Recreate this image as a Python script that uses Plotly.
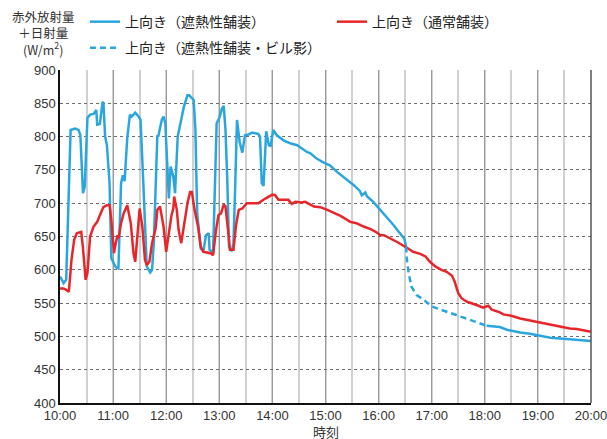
import plotly.graph_objects as go

# ---- data (minutes after 10:00, W/m2) ----
blue_min = [0, 4, 7, 12, 17, 21, 23, 26, 28, 31, 34, 38, 41, 42, 45, 48, 49, 51, 53,
            56, 58, 63, 66, 69, 71, 73, 76, 79, 81, 85, 89, 91, 94, 98, 102, 104, 106,
            110, 111, 115, 117, 119, 123, 125, 128, 130, 133, 138, 140, 144, 146, 151,
            153, 155, 159, 162, 165, 168, 169, 173, 177, 180, 183, 185, 187, 189, 191,
            194, 196, 198, 200, 203, 206, 209, 213, 217, 223, 224, 226, 228, 230, 233,
            236, 238, 241, 245, 253, 260, 268, 271, 279, 283, 290, 298, 305, 313, 320,
            328, 332, 339, 341, 345, 347, 354, 362, 369, 377, 384, 389, 391]
blue_val = [590, 580, 585, 810, 812, 810, 802, 715, 725, 828, 833, 834, 840, 818, 819,
            851, 852, 800, 787, 730, 617, 604, 602, 730, 742, 733, 798, 833, 830, 836,
            830, 825, 735, 605, 596, 600, 640, 802, 800, 825, 830, 820, 707, 755, 740,
            715, 800, 832, 845, 862, 862, 855, 810, 685, 632, 628, 652, 655, 630, 626,
            820, 828, 842, 846, 810, 735, 634, 628, 640, 727, 825, 792, 776, 802, 803,
            806, 805, 804, 800, 730, 726, 808, 787, 786, 810, 802, 794, 790, 787, 784,
            777, 775, 767, 761, 757, 747, 740, 732, 727, 718, 712, 716, 710, 702, 690,
            680, 667, 655, 647, 635]

blue_late_min = [482, 493, 497, 505, 512, 520, 531, 542, 554, 565, 576, 587, 600]
blue_late_val = [516, 515, 514, 510, 508, 506, 504, 501, 498, 497, 496, 495, 493]

shade_min = [391, 392, 394, 397, 403, 411, 420, 430, 441, 452, 463, 475, 482]
shade_val = [635, 615, 595, 575, 562, 555, 545, 540, 535, 530, 525, 520, 516]

red_min = [0, 4, 7, 10, 13, 16, 19, 24, 26, 29, 31, 34, 38, 42, 46, 49, 53, 56, 58,
           61, 63, 65, 66, 69, 72, 76, 80, 83, 85, 88, 90, 93, 96, 98, 101, 104, 108,
           110, 113, 117, 120, 123, 126, 128, 129, 132, 134, 137, 140, 144, 147, 149,
           152, 156, 159, 162, 166, 170, 173, 176, 179, 182, 185, 187, 190, 192, 196,
           199, 202, 206, 211, 219, 224, 232, 240, 243, 247, 253, 258, 262, 266, 273,
           277, 287, 294, 302, 309, 317, 328, 335, 343, 351, 358, 362, 366, 369, 375,
           382, 392, 399, 407, 413, 418, 424, 431, 437, 443, 446, 450, 454, 460, 467,
           473, 478, 484, 488, 497, 501, 510, 520, 531, 539, 546, 554, 565, 576, 584,
           591, 600]
red_val = [572, 572, 570, 567, 615, 645, 655, 657, 632, 585, 595, 650, 665, 672, 685,
           694, 697, 697, 675, 625, 640, 652, 647, 670, 685, 697, 670, 625, 612, 655,
           692, 665, 615, 607, 612, 640, 662, 690, 695, 665, 627, 655, 682, 692, 710,
           690, 660, 640, 665, 700, 717, 717, 690, 665, 635, 627, 626, 625, 622, 657,
           682, 685, 698, 695, 658, 630, 630, 668, 690, 692, 700, 700, 700, 707, 713,
           712, 705, 705, 705, 699, 702, 701, 702, 695, 694, 690, 686, 681, 672, 670,
           665, 661, 656, 652, 652, 650, 645, 641, 633, 627, 624, 620, 612, 605, 600,
           597, 591, 582, 565, 557, 552, 549, 546, 543, 546, 540, 536, 533, 531, 527,
           524, 521, 520, 517, 514, 512, 511, 509, 507]

tick_hours = list(range(10, 21))
tick_text = [f"{h}:00" for h in tick_hours]

names = ["上向き（遮熱性舗装）", "上向き（通常舗装）", "上向き（遮熱性舗装・ビル影）"]
BLUE = "#2aa6df"
RED = "#e8262a"


def hours(mins):
    return [10 + m / 60 for m in mins]


blue_x = hours(blue_min) + [None] + hours(blue_late_min)
blue_y = blue_val + [None] + blue_late_val

fig = go.Figure()
fig.add_trace(go.Scatter(x=blue_x, y=blue_y, mode="lines", name=names[0],
                         line=dict(color=BLUE, width=2.5), connectgaps=False,
                         legend="legend"))
fig.add_trace(go.Scatter(x=hours(red_min), y=red_val, mode="lines", name=names[1],
                         line=dict(color=RED, width=2.5), legend="legend"))
fig.add_trace(go.Scatter(x=hours(shade_min), y=shade_val, mode="lines", name=names[2],
                         line=dict(color=BLUE, width=2.5, dash="6px,4px"),
                         legend="legend2"))

font_jp = "Noto Sans CJK JP"
font_num = "Liberation Sans"
leg_font = dict(family=font_jp, size=14, color="#222")

fig.update_layout(
    width=607, height=439,
    margin=dict(l=60, r=16, t=70, b=36, autoexpand=False),
    paper_bgcolor="white", plot_bgcolor="white",
    showlegend=True,
    legend=dict(orientation="h", x=0.047, xanchor="left", y=1.192, yanchor="top",
                entrywidth=202, entrywidthmode="pixels", font=leg_font,
                bgcolor="rgba(0,0,0,0)"),
    legend2=dict(orientation="h", x=0.047, xanchor="left", y=1.114, yanchor="top",
                 font=leg_font, bgcolor="rgba(0,0,0,0)"),
    xaxis=dict(range=[10, 20], tickvals=tick_hours, ticktext=tick_text,
               showgrid=True, gridcolor="#9a9a9a", gridwidth=1,
               minor=dict(dtick=0.5, showgrid=True, gridcolor="#d0d0d0", gridwidth=1.5),
               showline=True, linecolor="#111", linewidth=1.5, zeroline=False,
               ticklabeloverflow="allow",
               tickfont=dict(family=font_num, size=13, color="#333"), ticks=""),
    yaxis=dict(range=[400, 900], dtick=50, showgrid=True, gridcolor="#6e6e6e",
               gridwidth=1, griddash="dot", showline=True, linecolor="#111",
               linewidth=1.5, zeroline=False, ticks="",
               tickfont=dict(family=font_num, size=13, color="#333")),
    annotations=[
        dict(text="赤外放射量<br>＋日射量<br>(W/m<sup>2</sup>)", xref="paper", yref="paper",
             x=-0.031, y=1.0, yshift=65, xanchor="center", yanchor="top", showarrow=False,
             align="center", font=dict(family=font_jp, size=12.5, color="#333")),
        dict(text="時刻", xref="paper", yref="paper", x=0.5, y=0, yshift=-28,
             xanchor="center", yanchor="middle", showarrow=False, borderpad=0,
             font=dict(family=font_jp, size=13, color="#333")),
    ],
    shapes=[dict(type="line", xref="paper", yref="paper", x0=1, x1=1, y0=0, y1=1,
                 line=dict(color="#555", width=1.5))],
)

fig.write_html("out.html", config={"displayModeBar": False},
               post_script="document.body.style.margin='0';")
